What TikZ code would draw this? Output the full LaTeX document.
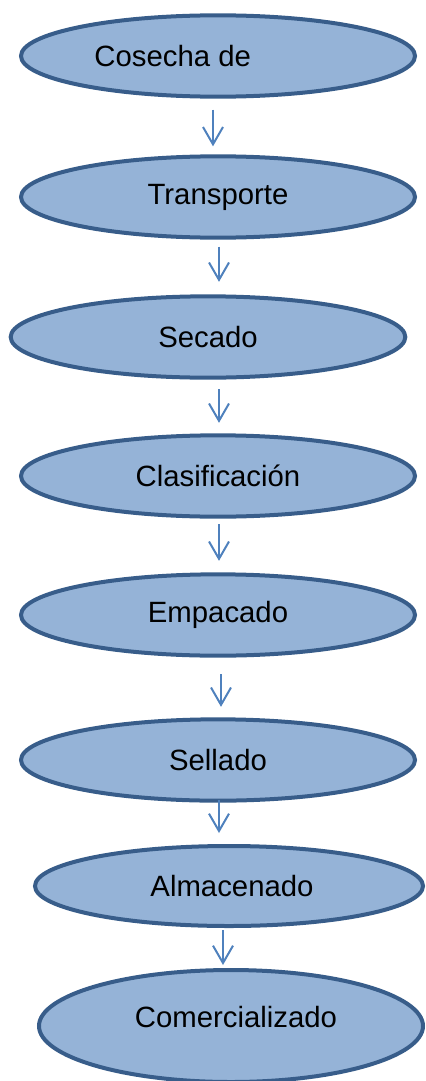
\documentclass[tikz,border=0pt]{standalone}
\usepackage{fontspec}
\setmainfont{Liberation Sans}
\usetikzlibrary{shapes.geometric,arrows.meta,calc}

\definecolor{EtapaFill}{RGB}{149,179,215}
\definecolor{EtapaBorde}{RGB}{56,93,138}
\definecolor{FlechaColor}{RGB}{79,129,189}

\tikzset{
	etapa/.style={ellipse, draw=EtapaBorde, fill=EtapaFill, line width=3pt,
		inner sep=0pt, minimum width=295.5pt, minimum height=61pt},
	flecha/.style={draw=FlechaColor, line width=1.5pt,
		-{Straight Barb[length=13pt,width=15pt,line width=1.5pt]}}
}

\begin{document}
\begin{tikzpicture}[x=0.75pt,y=-0.75pt,font=\fontsize{22}{26}\selectfont]
	\useasboundingbox (0,0) rectangle (425,1081);
	% etapas del proceso
	\node [etapa, label={[xshift=-34pt]center:Cosecha de}] (cosecha) at (218,56) {};
	\node [etapa] (transporte) at (218,197) {Transporte};
	\node [etapa, minimum width=296pt] (secado) at (208,337) {Secado};
	\node [etapa] (clasificacion) at (218,476) {Clasificación};
	\node [etapa] (empacado) at (218,615) {Empacado};
	\node [etapa] (sellado) at (218,760) {Sellado};
	\node [etapa, minimum width=291pt, minimum height=60pt,
		label={[xshift=2.25pt]center:Almacenado}] (almacenado) at (229,886) {};
	\node [etapa, minimum width=288pt, minimum height=84pt,
		label={[xshift=3.75pt,yshift=6.75pt]center:Comercializado}] (comercializado) at (231,1026) {};
	% flechas
	\draw [flecha] ($(cosecha.south)+(-5,11)$) -- ($(transporte.north)+(-5,-8)$);
	\draw [flecha] ($(transporte.south)+(1,7)$) -- ($(secado.north)+(11,-12.5)$);
	\draw [flecha] ($(secado.south)+(11,9.5)$) -- ($(clasificacion.north)+(1,-10.5)$);
	\draw [flecha] ($(clasificacion.south)+(1,5.5)$) -- ($(empacado.north)+(1,-11.5)$);
	\draw [flecha] ($(empacado.south)+(3,16.5)$) -- ($(sellado.north)+(3,-10.5)$);
	\draw [flecha] ($(sellado.south)+(1,-2.5)$) -- ($(almacenado.north)+(-10,-11)$);
	\draw [flecha] ($(almacenado.south)+(-6,2)$) -- ($(comercializado.north)+(-8,-3)$);
\end{tikzpicture}
\end{document}
